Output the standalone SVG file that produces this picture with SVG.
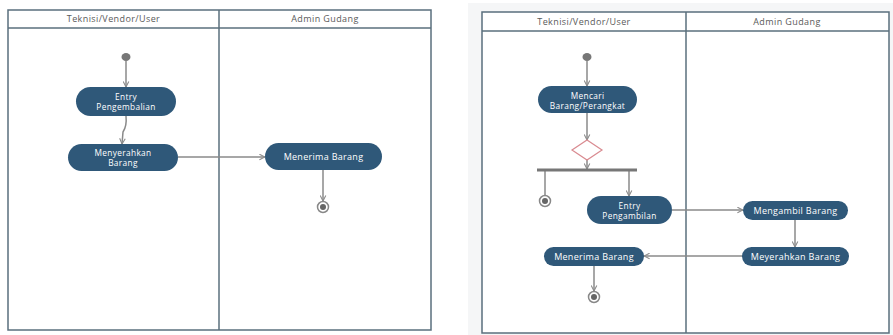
<svg xmlns="http://www.w3.org/2000/svg" width="893" height="335" viewBox="0 0 893 335">
<defs>
<style>
.frame{fill:#fff;stroke:#5a6f7d;stroke-width:1.5}
.sep{stroke:#5a6f7d;stroke-width:1.5;fill:none}
.hdr{font-family:"Open Sans","Liberation Sans",sans-serif;font-size:9px;letter-spacing:0.4px;fill:#5a5a5a;text-anchor:middle}
.pill{fill:#2f5879}
.lbl{font-family:"Open Sans","Liberation Sans",sans-serif;font-size:9px;letter-spacing:0.3px;fill:#fff;text-anchor:middle}
.lbl2{font-family:"Open Sans","Liberation Sans",sans-serif;font-size:8.3px;letter-spacing:0.35px;fill:#fff;text-anchor:middle}
.con{stroke:#8a8a8a;stroke-width:1.5;fill:none}
.arr{stroke:#8a8a8a;stroke-width:1.5;fill:none;marker-end:url(#ah)}
.start{fill:#777}
.endo{fill:#fff;stroke:#888;stroke-width:1.5}
.endi{fill:#666}
</style>
<marker id="ah" viewBox="0 0 10 10" refX="9" refY="5" markerWidth="7" markerHeight="7" markerUnits="userSpaceOnUse" orient="auto">
<polyline points="1,1 9,5 1,9" fill="none" stroke="#8a8a8a" stroke-width="1.5"/>
</marker>
</defs>
<rect x="0" y="0" width="893" height="335" fill="#fff"/>
<rect x="468" y="3" width="425" height="332" fill="#f5f6f7"/>

<!-- Left diagram lanes -->
<g id="left-lanes">
<rect class="frame" x="8" y="10" width="423" height="320"/>
<line class="sep" x1="8" y1="28" x2="431" y2="28"/>
<line class="sep" x1="219" y1="10" x2="219" y2="330"/>
<text class="hdr" x="113.5" y="22">Teknisi/Vendor/User</text>
<text class="hdr" x="325" y="22">Admin Gudang</text>
</g>

<!-- Right diagram lanes -->
<g id="right-lanes">
<rect class="frame" x="482" y="12" width="407" height="321"/>
<line class="sep" x1="482" y1="31" x2="889" y2="31"/>
<line class="sep" x1="686" y1="12" x2="686" y2="333"/>
<text class="hdr" x="584" y="24.5">Teknisi/Vendor/User</text>
<text class="hdr" x="787" y="24.5">Admin Gudang</text>
</g>

<g id="connectors">
<line class="arr" x1="126" y1="61" x2="126" y2="87"/>
<path class="arr" d="M126,116 Q127,126 123,132 L122,144"/>
<line class="arr" x1="178" y1="157" x2="265" y2="157"/>
<line class="arr" x1="323" y1="170" x2="323" y2="201"/>

<line class="arr" x1="587" y1="61" x2="587" y2="86"/>
<line class="arr" x1="587" y1="113" x2="587" y2="140"/>
<line class="arr" x1="587" y1="160" x2="587" y2="169"/>
<line class="con" x1="545" y1="171" x2="545" y2="195"/>
<line class="arr" x1="629" y1="171" x2="629" y2="196"/>
<line class="arr" x1="672" y1="210" x2="743" y2="210"/>
<line class="arr" x1="795" y1="220" x2="795" y2="247"/>
<line class="arr" x1="742" y1="256" x2="644" y2="256"/>
<line class="arr" x1="594" y1="266" x2="594" y2="291"/>
</g>

<!-- Left nodes -->
<g id="L-start"><ellipse class="start" cx="126" cy="57" rx="4.5" ry="4"/></g>
<g id="L-entry-pengembalian">
<rect class="pill" x="76" y="87" width="100" height="29" rx="14.5"/>
<text class="lbl2" x="126" y="99.5">Entry</text>
<text class="lbl2" x="126" y="109.5">Pengembalian</text>
</g>
<g id="L-menyerahkan">
<rect class="pill" x="68" y="144" width="110" height="27" rx="13.5"/>
<text class="lbl2" x="123" y="155.5">Menyerahkan</text>
<text class="lbl2" x="123" y="165.5">Barang</text>
</g>
<g id="L-menerima">
<rect class="pill" x="265" y="143" width="117" height="27" rx="13.5"/>
<text class="lbl" x="323.5" y="160">Menerima Barang</text>
</g>
<g id="L-end">
<circle class="endo" cx="323" cy="207" r="5.5"/>
<circle class="endi" cx="323" cy="207" r="3"/>
</g>

<!-- Right nodes -->
<g id="R-start"><ellipse class="start" cx="587" cy="57" rx="4.5" ry="4"/></g>
<g id="R-mencari">
<rect class="pill" x="538" y="86" width="99" height="27" rx="13.5"/>
<text class="lbl2" x="587.5" y="98.5">Mencari</text>
<text class="lbl2" x="587.5" y="108.5">Barang/Perangkat</text>
</g>
<g id="R-decision">
<polygon points="587,140 602,150 587,160 572,150" fill="#fff" stroke="#d98a90" stroke-width="1.2"/>
</g>
<g id="R-fork">
<rect x="537" y="168.5" width="100" height="3" fill="#777"/>
</g>
<g id="R-end1">
<circle class="endo" cx="545" cy="201" r="5.5"/>
<circle class="endi" cx="545" cy="201" r="3"/>
</g>
<g id="R-entry-pengambilan">
<rect class="pill" x="587" y="196" width="85" height="28" rx="14"/>
<text class="lbl2" x="629.5" y="208.5">Entry</text>
<text class="lbl2" x="629.5" y="218.5">Pengambilan</text>
</g>
<g id="R-mengambil">
<rect class="pill" x="743" y="201" width="105" height="19" rx="9.5"/>
<text class="lbl" x="795.5" y="213.5">Mengambil Barang</text>
</g>
<g id="R-meyerahkan">
<rect class="pill" x="742" y="247" width="107" height="19" rx="9.5"/>
<text class="lbl" x="795.5" y="259.5">Meyerahkan Barang</text>
</g>
<g id="R-menerima">
<rect class="pill" x="544" y="247" width="100" height="19" rx="9.5"/>
<text class="lbl" x="594" y="259.5">Menerima Barang</text>
</g>
<g id="R-end2">
<circle class="endo" cx="594" cy="297" r="5.5"/>
<circle class="endi" cx="594" cy="297" r="3"/>
</g>
</svg>
